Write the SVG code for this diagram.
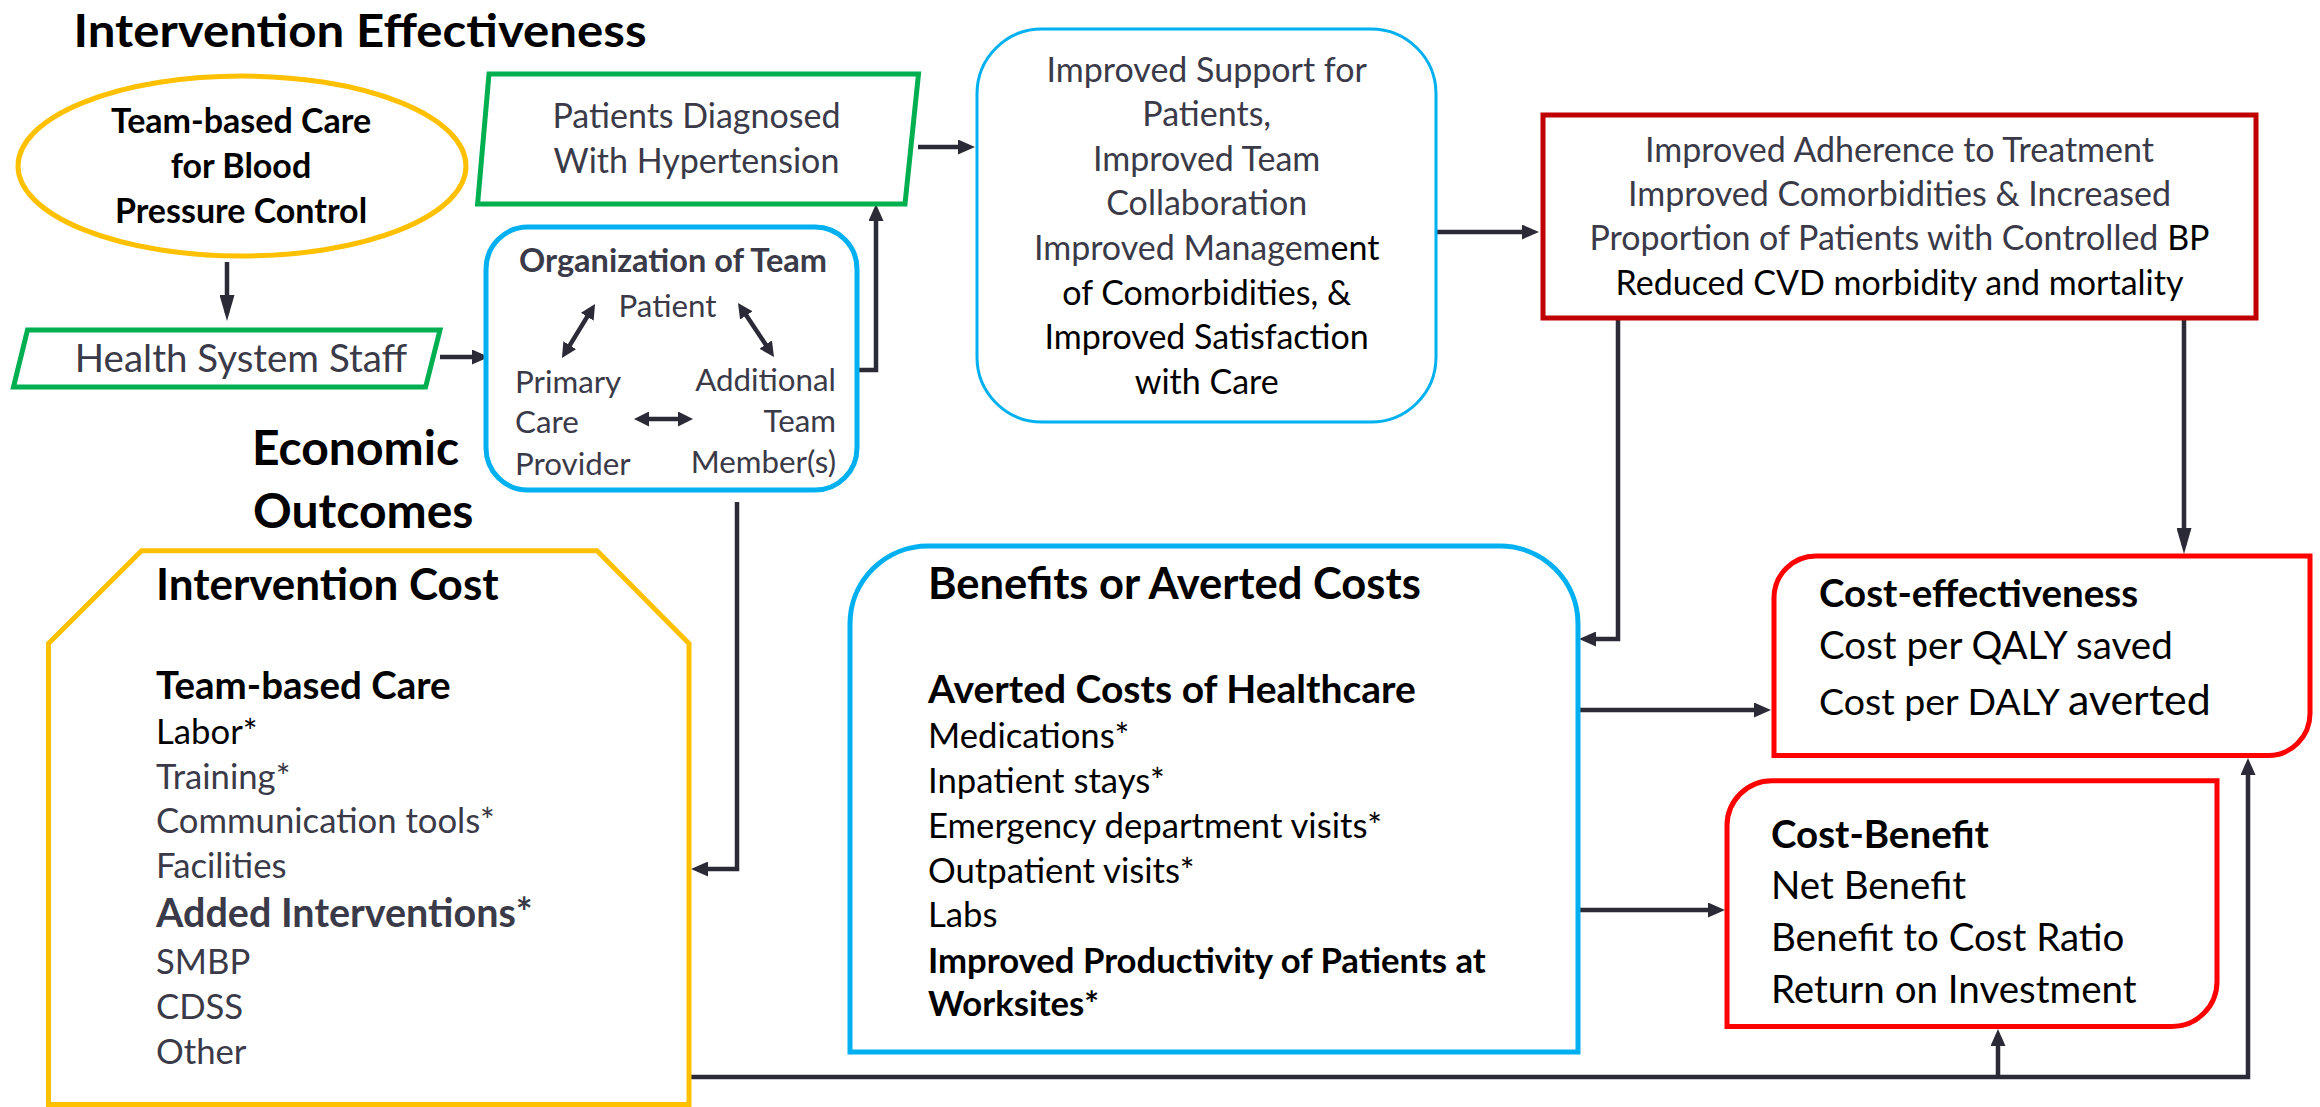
<svg xmlns="http://www.w3.org/2000/svg" width="2320" height="1107" viewBox="0 0 2320 1107">
<style>
text{font-family:Lato,"Open Sans","Liberation Sans",sans-serif}
.b{font-weight:700}
.g{fill:#3A3A48}
.k{fill:#000}
.m{text-anchor:middle}
.e{text-anchor:end}
.s48{font-size:48px}
.s44{font-size:44px}
.s39{font-size:39px}
.s38{font-size:38.5px}
.s35{font-size:34.7px}
.s34{font-size:34px}
.s32{font-size:32.5px}
.s31{font-size:31.3px}
.con{fill:none;stroke:#2B2B38;stroke-width:4.5}
.yel{fill:#fff;stroke:#FFC000;stroke-width:5}
.grn{fill:#fff;stroke:#00B050;stroke-width:5}
.blu{fill:#fff;stroke:#00B0F0;stroke-width:5}
.red{fill:#fff;stroke:#FF0000;stroke-width:5}
</style>
<defs>
<marker id="ah" markerUnits="userSpaceOnUse" markerWidth="17" markerHeight="15" refX="9" refY="7.5" orient="auto"><path d="M0,0 L17,7.5 L0,15 Z" fill="#2B2B38"/></marker>
<marker id="al" markerUnits="userSpaceOnUse" markerWidth="26" markerHeight="15" refX="18" refY="7.5" orient="auto"><path d="M0,0 L26,7.5 L0,15 Z" fill="#2B2B38"/></marker>
<marker id="ad" markerUnits="userSpaceOnUse" markerWidth="15" markerHeight="15" refX="8" refY="7.5" orient="auto-start-reverse"><path d="M0,0 L15,7.5 L0,15 Z" fill="#2B2B38"/></marker>
</defs>

<g id="label-effectiveness"><text x="73.5" y="47" class="b k" style="font-size:46px" textLength="573" lengthAdjust="spacingAndGlyphs">Intervention Effectiveness</text></g>
<g id="label-economic"><text x="252" y="465" class="b k s48">Economic</text><text x="253" y="528" class="b k s48">Outcomes</text></g>

<g id="connectors">
<path class="con" d="M227,262 V313" marker-end="url(#al)"/>
<path class="con" d="M440,357 H481" marker-end="url(#ah)"/>
<path class="con" d="M846,370 H876 V212" marker-end="url(#ah)"/>
<path class="con" d="M918,147 H967" marker-end="url(#ah)"/>
<path class="con" d="M1436,232 H1531" marker-end="url(#ah)"/>
<path class="con" d="M1618,318 V639 H1587" marker-end="url(#ah)"/>
<path class="con" d="M2184,318 V546" marker-end="url(#al)"/>
<path class="con" d="M737,502 V869 H699" marker-end="url(#ah)"/>
<path class="con" d="M1578,710 H1763" marker-end="url(#ah)"/>
<path class="con" d="M1578,910 H1717" marker-end="url(#ah)"/>
<path class="con" d="M691,1077 H2248 V766" marker-end="url(#ah)"/>
<path class="con" d="M1998,1077 V1037" marker-end="url(#ah)"/>
</g>

<g id="node-teamcare">
<ellipse cx="242" cy="166" rx="224" ry="90" class="yel"/>
<text x="241" y="133" class="b k m s34">Team-based Care</text>
<text x="241" y="178" class="b k m s34">for Blood</text>
<text x="241" y="223" class="b k m s34">Pressure Control</text>
</g>

<g id="node-staff">
<polygon points="27.5,330 440,330 425.6,387 13.5,387" class="grn"/>
<text x="241" y="372" class="g m s38">Health System Staff</text>
</g>

<g id="node-patients">
<polygon points="489,74 918.5,74 905,204 477.6,204" class="grn"/>
<text x="696.5" y="128" class="g m s34">Patients Diagnosed</text>
<text x="696.5" y="173" class="g m s34">With Hypertension</text>
</g>

<g id="node-organization">
<rect x="486" y="227" width="371" height="263" rx="42" class="blu"/>
<text x="673" y="272" class="b g m s32">Organization of Team</text>
<text x="667.5" y="317" class="g m s31">Patient</text>
<text x="515" y="393" class="g s31">Primary</text>
<text x="515" y="433" class="g s31">Care</text>
<text x="515" y="475" class="g s31">Provider</text>
<text x="836" y="391" class="g e s31">Additional</text>
<text x="836" y="432" class="g e s31">Team</text>
<text x="836" y="473" class="g e s31">Member(s)</text>
<g fill="none" stroke="#2B2B38" stroke-width="4.5">
<path d="M565.6,352.1 L591.4,309.9" marker-start="url(#ad)" marker-end="url(#ad)"/>
<path d="M741.9,308.8 L770.1,351.2" marker-start="url(#ad)" marker-end="url(#ad)"/>
<path d="M641,419 H686" marker-start="url(#ad)" marker-end="url(#ad)"/>
</g>
</g>

<g id="node-support">
<rect x="977" y="29" width="459" height="393" rx="65" fill="#fff" stroke="#00B0F0" stroke-width="3"/>
<text x="1206.7" y="81.7" class="g m s34">Improved Support for</text>
<text x="1206.7" y="126" class="g m s34">Patients,</text>
<text x="1206.7" y="170.5" class="g m s34">Improved Team</text>
<text x="1206.7" y="215" class="g m s34">Collaboration</text>
<text x="1206.7" y="259.5" class="m s34"><tspan class="g">Improved Managem</tspan><tspan class="k">ent</tspan></text>
<text x="1206.7" y="304.5" class="k m s34">of Comorbidities, &amp;</text>
<text x="1206.7" y="349" class="k m s34">Improved Satisfaction</text>
<text x="1206.7" y="394" class="k m s34">with Care</text>
</g>

<g id="node-outcomes">
<rect x="1543" y="115" width="713" height="203" fill="#fff" stroke="#C00000" stroke-width="5"/>
<text x="1899.5" y="161.7" class="g m s34">Improved Adherence to Treatment</text>
<text x="1899.5" y="206" class="g m s34">Improved Comorbidities &amp; Increased</text>
<text x="1899.5" y="250" class="m s34"><tspan class="g">Proportion of Patients with Controlled </tspan><tspan class="k">BP</tspan></text>
<text x="1899.5" y="295" class="k m s34">Reduced CVD morbidity and mortality</text>
</g>

<g id="node-cost">
<path d="M48.5,1104.5 V643.5 L141.5,550.7 H597 L689,643.5 V1104.5 Z" class="yel"/>
<text x="156" y="600" class="b k s44">Intervention Cost</text>
<text x="156" y="699" class="b k s38">Team-based Care</text>
<text x="156" y="744" class="k s35">Labor*</text>
<text x="156" y="789" class="g s35">Training*</text>
<text x="156" y="833" class="g s35">Communication tools*</text>
<text x="156" y="877.5" class="g s35">Facilities</text>
<text x="156" y="927" class="b g s39" style="font-size:39.5px">Added Interventions*</text>
<text x="156" y="974" class="g s35">SMBP</text>
<text x="156" y="1019" class="g s35">CDSS</text>
<text x="156" y="1064" class="g s35">Other</text>
</g>

<g id="node-benefits">
<path d="M850,1052 V624 A78,78 0 0 1 928,546 H1500 A78,78 0 0 1 1578,624 V1052 Z" class="blu"/>
<text x="928" y="598.6" class="b k" style="font-size:43.5px">Benefits or Averted Costs</text>
<text x="928" y="702.7" class="b k s39">Averted Costs of Healthcare</text>
<text x="928" y="748.4" class="k s35">Medications*</text>
<text x="928" y="792.6" class="k s35">Inpatient stays*</text>
<text x="928" y="838" class="k s35">Emergency department visits*</text>
<text x="928" y="883" class="k s35">Outpatient visits*</text>
<text x="928" y="927" class="k s35">Labs</text>
<text x="928" y="973" class="b k s35">Improved Productivity of Patients at</text>
<text x="928" y="1016" class="b k s35">Worksites*</text>
</g>

<g id="node-cea">
<path d="M1774,755.5 V598 A42,42 0 0 1 1816,556 H2310 V713.5 A42,42 0 0 1 2268,755.5 Z" class="red"/>
<text x="1819" y="606.5" class="b k s38">Cost-effectiveness</text>
<text x="1819" y="658.7" class="k s38">Cost per QALY saved</text>
<text x="1819" y="715" class="k" style="font-size:37.5px">Cost per DALY <tspan style="font-size:43px">averted</tspan></text>
</g>

<g id="node-cba">
<path d="M1727,1026.5 V825.7 A45,45 0 0 1 1772,780.7 H2217 V981.5 A45,45 0 0 1 2172,1026.5 Z" class="red"/>
<text x="1771" y="848.4" class="b k s38">Cost-Benefit</text>
<text x="1771" y="898.7" class="k s38">Net Benefit</text>
<text x="1771" y="951" class="k s38">Benefit to Cost Ratio</text>
<text x="1771" y="1002.5" class="k s38">Return on Investment</text>
</g>
</svg>
